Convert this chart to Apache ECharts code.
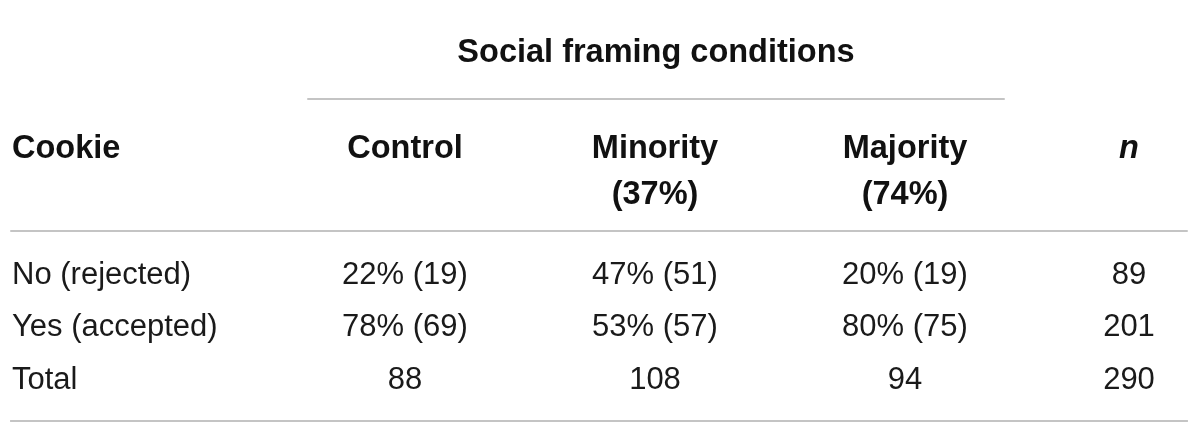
<!DOCTYPE html>
<html>
<head>
<meta charset="utf-8">
<title>Social framing conditions</title>
<script src="https://cdn.jsdelivr.net/npm/echarts@6/dist/echarts.min.js"></script>
<style>
  html, body { margin: 0; padding: 0; background: #fff; }
  #main { width: 1200px; height: 434px; }
</style>
</head>
<body>
<div id="main"></div>
<script>
// table content
var groupTitle = ['Social framing conditions'];
var columns = ['Cookie', 'Control', 'Minority\n(37%)', 'Majority\n(74%)', 'n'];
var rows = ['No (rejected)', 'Yes (accepted)', 'Total'];
var controlCol = ['22% (19)', '78% (69)', '88'];
var minorityCol = ['47% (51)', '53% (57)', '108'];
var majorityCol = ['20% (19)', '80% (75)', '94'];
var nCol = ['89', '201', '290'];

var ruleColor = '#c4c4c4';
var fontFamily = '"Liberation Sans", Arial, Helvetica, sans-serif';
var boldColor = '#111111';
var textColor = '#1a1a1a';

var chart = echarts.init(document.getElementById('main'), null, { renderer: 'canvas' });

// a rule = just the axis line of an otherwise empty axis
function ruleAxis(gridIndex, position) {
    return {
        type: 'category', gridIndex: gridIndex, position: position,
        data: [''],
        axisLine: { show: true, lineStyle: { color: ruleColor, width: 2 } },
        axisTick: { show: false }, axisLabel: { show: false }, splitLine: { show: false }
    };
}
function hiddenAxis(gridIndex, data) {
    return { type: 'category', gridIndex: gridIndex, data: data, inverse: true, show: false };
}
// column axis: columns sit at their index, range chosen so the table fills the width
function columnAxis(gridIndex) {
    return { type: 'value', gridIndex: gridIndex, min: -0.576, max: 4.128, show: false, splitLine: { show: false } };
}

// body cells: [column index, row index, text]
var bodyCells = [];
var bodyCols = [rows, controlCol, minorityCol, majorityCol, nCol];
for (var c = 0; c < bodyCols.length; c++) {
    for (var r = 0; r < rows.length; r++) {
        bodyCells.push([c, r, bodyCols[c][r]]);
    }
}
var headCells = [];
for (var h = 0; h < columns.length; h++) {
    headCells.push([h, 0, columns[h]]);
}

function cellLabel(bold) {
    return {
        show: true,
        position: 'inside',
        fontFamily: fontFamily,
        fontSize: bold ? 32.5 : 31,
        fontWeight: bold ? 'bold' : 'normal',
        color: bold ? boldColor : textColor,
        opacity: 1,
        textBorderWidth: 0,
        formatter: function (p) { return p.value[2]; }
    };
}
// first column is left aligned, last column sits a bit left of its centre
function cellItem(cell, bold, dy) {
    var item = { value: cell };
    if (cell[0] === 0) {
        item.label = { align: 'left', offset: [-143, dy] };
    } else if (cell[0] === columns.length - 1) {
        item.label = { offset: [-26, dy] };
        if (bold) item.label.fontStyle = 'italic';
    }
    return item;
}

var option = {
    animation: false,
    grid: [
        { left: 11, right: 13, top: 12, bottom: 13 },     // outer rules
        { left: 11, right: 13, top: 12, bottom: 203 },    // rule under header
        { left: 308, right: 196, top: 12, bottom: 335 },  // group title + its rule
        { left: 11, right: 13, top: 124, height: 46 },    // column headers
        { left: 11, right: 13, top: 248, height: 157.5 }  // body
    ],
    xAxis: [
        ruleAxis(0, 'top'),
        ruleAxis(0, 'bottom'),
        ruleAxis(1, 'bottom'),
        { type: 'category', gridIndex: 2, data: groupTitle, position: 'bottom',
          axisLine: { show: true, lineStyle: { color: ruleColor, width: 2 } },
          axisTick: { show: false }, axisLabel: { show: false } },
        columnAxis(3),
        columnAxis(4)
    ],
    yAxis: [
        { type: 'value', gridIndex: 0, show: false, splitLine: { show: false } },
        { type: 'value', gridIndex: 1, show: false, splitLine: { show: false } },
        hiddenAxis(2, ['title']),
        hiddenAxis(3, ['head']),
        hiddenAxis(4, rows)
    ],
    series: [
        {
            type: 'scatter', xAxisIndex: 3, yAxisIndex: 2, symbolSize: 0,
            itemStyle: { opacity: 1 },
            label: Object.assign(cellLabel(true), { offset: [0, -2] }),
            data: [[0, 0, groupTitle[0]]]
        },
        {
            type: 'scatter', xAxisIndex: 4, yAxisIndex: 3, symbolSize: 0,
            itemStyle: { opacity: 1 },
            label: Object.assign(cellLabel(true), { verticalAlign: 'top', lineHeight: 46, offset: [0, -21] }),
            data: headCells.map(function (c) { return cellItem(c, true, -21); })
        },
        {
            type: 'scatter', xAxisIndex: 5, yAxisIndex: 4, symbolSize: 0,
            itemStyle: { opacity: 1 },
            label: Object.assign(cellLabel(false), { offset: [0, 1] }),
            data: bodyCells.map(function (c) { return cellItem(c, false, 1); })
        }
    ]
};
chart.setOption(option);
</script>
</body>
</html>
